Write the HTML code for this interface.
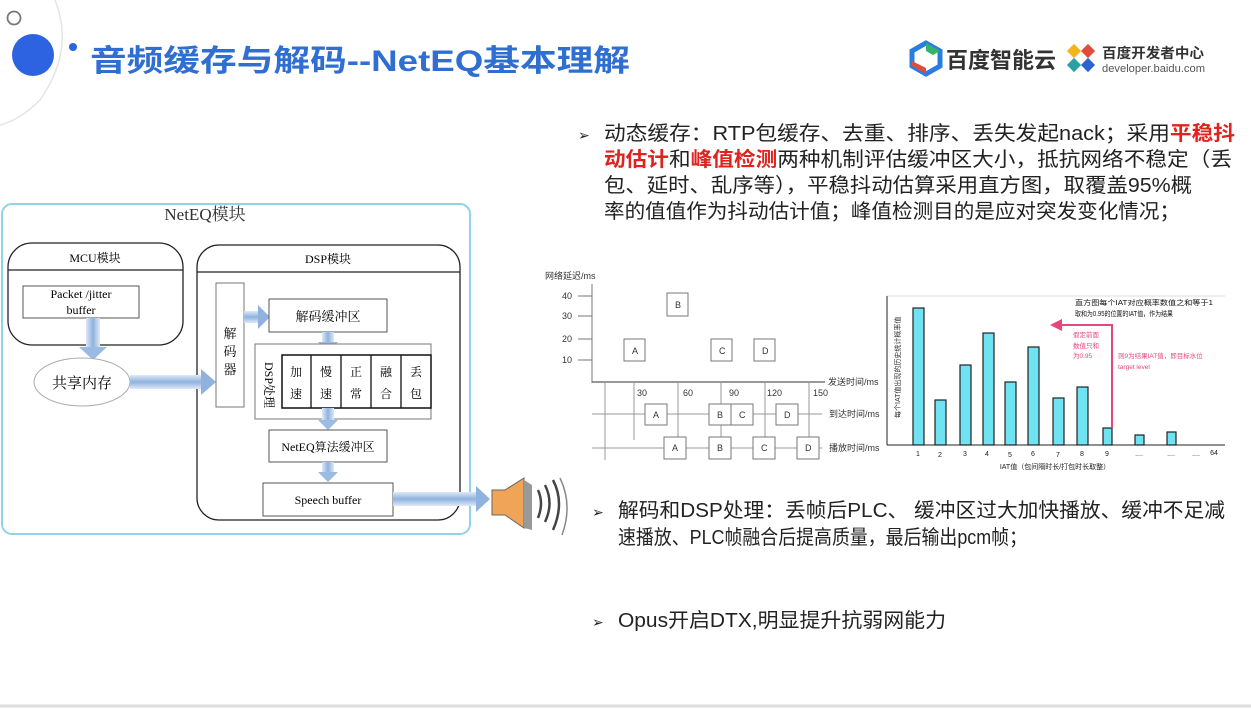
<!DOCTYPE html>
<html><head><meta charset="utf-8"><style>
html,body{margin:0;padding:0;background:#fff;}
svg{display:block;}
text{font-family:"Liberation Sans","Noto Sans CJK SC",sans-serif;}
.s{font-family:"Liberation Serif","Noto Serif CJK SC",serif;}
</style></head><body>
<svg width="1251" height="709" viewBox="0 0 1251 709" xmlns="http://www.w3.org/2000/svg">
<defs>
<linearGradient id="ag" x1="0" y1="0" x2="0" y2="1"><stop offset="0" stop-color="#dfe9f7"/><stop offset="0.5" stop-color="#8fb2df"/><stop offset="1" stop-color="#dfe9f7"/></linearGradient>
<linearGradient id="agv" x1="0" y1="0" x2="1" y2="0"><stop offset="0" stop-color="#dfe9f7"/><stop offset="0.5" stop-color="#8fb2df"/><stop offset="1" stop-color="#dfe9f7"/></linearGradient>
</defs>
<rect width="1251" height="709" fill="#fff"/>
<path d="M55 0 Q75 50 40 100 Q20 120 0 125" fill="none" stroke="#e4e4e4" stroke-width="1.5"/>
<circle cx="14" cy="18" r="6.5" fill="none" stroke="#777" stroke-width="1.8"/>
<circle cx="33" cy="55" r="21" fill="#2d62e0"/>
<circle cx="73" cy="47" r="4" fill="#2d62e0"/>
<text x="90" y="71" font-size="30" font-weight="bold" fill="#2f6fd1" textLength="540" lengthAdjust="spacingAndGlyphs">音频缓存与解码--NetEQ基本理解</text>
<path d="M926 43 L940 51 L940 66 L926 74 L912 66 L912 51 Z" fill="none" stroke="#2a7de0" stroke-width="5"/>
<path d="M926 43 L940 51 L933 55 L926 51 Z" fill="#34b36b"/>
<path d="M912 61 L912 66 L926 74 L926 68 Z" fill="#e04b3a"/>
<text x="946" y="68" font-size="22" font-weight="bold" fill="#333" textLength="110" lengthAdjust="spacingAndGlyphs">百度智能云</text>
<rect x="1069" y="46" width="10" height="10" fill="#f3b51c" transform="rotate(45 1074 51)"/>
<rect x="1083" y="46" width="10" height="10" fill="#e04b3a" transform="rotate(45 1088 51)"/>
<rect x="1069" y="60" width="10" height="10" fill="#29a0a3" transform="rotate(45 1074 65)"/>
<rect x="1083" y="60" width="10" height="10" fill="#2a62d0" transform="rotate(45 1088 65)"/>
<text x="1102" y="58" font-size="14" font-weight="bold" fill="#333" textLength="102" lengthAdjust="spacingAndGlyphs">百度开发者中心</text>
<text x="1102" y="72" font-size="11" fill="#555" textLength="103" lengthAdjust="spacingAndGlyphs">developer.baidu.com</text>

<g font-size="20" fill="#222">
<text x="578" y="140" font-size="14">➢</text>
<text x="604" y="140" textLength="631" lengthAdjust="spacingAndGlyphs">动态缓存：RTP包缓存、去重、排序、丢失发起nack；采用<tspan fill="#e0231f" font-weight="bold">平稳抖</tspan></text>
<text x="604" y="166" textLength="628" lengthAdjust="spacingAndGlyphs"><tspan fill="#e0231f" font-weight="bold">动估计</tspan>和<tspan fill="#e0231f" font-weight="bold">峰值检测</tspan>两种机制评估缓冲区大小，抵抗网络不稳定（丢</text>
<text x="604" y="192" textLength="588" lengthAdjust="spacingAndGlyphs">包、延时、乱序等），平稳抖动估算采用直方图，取覆盖95%概</text>
<text x="604" y="218" textLength="576" lengthAdjust="spacingAndGlyphs">率的值值作为抖动估计值；峰值检测目的是应对突发变化情况；</text>
<text x="592" y="517" font-size="14">➢</text>
<text x="618" y="517" textLength="607" lengthAdjust="spacingAndGlyphs">解码和DSP处理：丢帧后PLC、 缓冲区过大加快播放、缓冲不足减</text>
<text x="618" y="544" textLength="409" lengthAdjust="spacingAndGlyphs">速播放、PLC帧融合后提高质量，最后输出pcm帧；</text>
<text x="592" y="627" font-size="14">➢</text>
<text x="618" y="627" textLength="328" lengthAdjust="spacingAndGlyphs">Opus开启DTX,明显提升抗弱网能力</text>
</g>

<g>
<rect x="2" y="204" width="468" height="330" rx="10" fill="#fff" stroke="#8fd3e4" stroke-width="2"/>
<text x="205" y="220" font-size="17" text-anchor="middle" fill="#333" class="s">NetEQ模块</text>
<rect x="8" y="243" width="175" height="102" rx="24" fill="#fff" stroke="#222" stroke-width="1.3"/>
<line x1="8" y1="270" x2="183" y2="270" stroke="#222" stroke-width="1.3"/>
<text x="95" y="262" font-size="12" text-anchor="middle" class="s">MCU模块</text>
<rect x="23" y="286" width="116" height="32" fill="#fff" stroke="#555"/>
<text x="81" y="298" font-size="12" text-anchor="middle" class="s">Packet /jitter</text>
<text x="81" y="314" font-size="12" text-anchor="middle" class="s">buffer</text>
<rect x="86" y="318" width="14" height="30" fill="url(#agv)"/>
<path d="M79 347 L107 347 L93 360 Z" fill="#9cbbe3"/>
<ellipse cx="82" cy="382" rx="48" ry="24" fill="#fff" stroke="#aaa"/>
<text x="82" y="388" font-size="15" text-anchor="middle" class="s">共享内存</text>

<rect x="197" y="245" width="263" height="275" rx="22" fill="#fff" stroke="#222" stroke-width="1.3"/>
<line x1="197" y1="272" x2="460" y2="272" stroke="#222" stroke-width="1.3"/>
<text x="328" y="263" font-size="12" text-anchor="middle" class="s">DSP模块</text>
<rect x="130" y="375" width="72" height="14" fill="url(#ag)"/>
<path d="M201 369 L216 382 L201 395 Z" fill="#8fb2df"/>
<rect x="216" y="283" width="28" height="124" fill="#fff" stroke="#777"/>
<text x="230" y="338" font-size="13" text-anchor="middle" class="s">解</text>
<text x="230" y="356" font-size="13" text-anchor="middle" class="s">码</text>
<text x="230" y="374" font-size="13" text-anchor="middle" class="s">器</text>
<rect x="244" y="311" width="16" height="12" fill="url(#ag)"/>
<path d="M258 305 L270 317 L258 329 Z" fill="#8fb2df"/>
<rect x="269" y="299" width="118" height="33" fill="#fff" stroke="#555"/>
<text x="328" y="321" font-size="13" text-anchor="middle" class="s">解码缓冲区</text>
<rect x="322" y="332" width="12" height="10" fill="url(#agv)"/>
<path d="M318 342 L338 342 L328 352 Z" fill="#9cbbe3"/>
<rect x="255" y="344" width="176" height="75" fill="#fff" stroke="#777"/>
<text x="265" y="362" font-size="12" class="s" transform="rotate(90 265 362)">DSP处理</text>
<rect x="282" y="355" width="149" height="53" fill="#fff" stroke="#111" stroke-width="1.5"/>
<g stroke="#111" stroke-width="1.3"><line x1="311" y1="355" x2="311" y2="408"/><line x1="341" y1="355" x2="341" y2="408"/><line x1="371" y1="355" x2="371" y2="408"/><line x1="401" y1="355" x2="401" y2="408"/></g>
<g font-size="12" text-anchor="middle" class="s">
<text x="296" y="376" class="s">加</text><text x="296" y="398" class="s">速</text>
<text x="326" y="376" class="s">慢</text><text x="326" y="398" class="s">速</text>
<text x="356" y="376" class="s">正</text><text x="356" y="398" class="s">常</text>
<text x="386" y="376" class="s">融</text><text x="386" y="398" class="s">合</text>
<text x="416" y="376" class="s">丢</text><text x="416" y="398" class="s">包</text>
</g>
<rect x="322" y="408" width="12" height="14" fill="url(#agv)"/>
<path d="M318 420 L338 420 L328 430 Z" fill="#9cbbe3"/>
<rect x="269" y="430" width="118" height="32" fill="#fff" stroke="#555"/>
<text x="328" y="451" font-size="12" text-anchor="middle" class="s">NetEQ算法缓冲区</text>
<rect x="322" y="462" width="12" height="12" fill="url(#agv)"/>
<path d="M318 472 L338 472 L328 482 Z" fill="#9cbbe3"/>
<rect x="263" y="483" width="130" height="33" fill="#fff" stroke="#555"/>
<text x="328" y="504" font-size="12" text-anchor="middle" class="s">Speech buffer</text>
<rect x="393" y="492" width="85" height="14" fill="url(#ag)"/>
<path d="M476 486 L490 499 L476 512 Z" fill="#8fb2df"/>
<path d="M492 490 L505 490 L524 478 L524 528 L505 515 L492 515 Z" fill="#f0a458" stroke="#666"/>
<path d="M524 480 L532 485 L532 530 L524 528 Z" fill="#999"/>
<path d="M538 490 Q544 503 538 518" fill="none" stroke="#444" stroke-width="2.5"/>
<path d="M545 485 Q554 503 545 522" fill="none" stroke="#444" stroke-width="2.5"/>
<path d="M553 480 Q565 503 553 530" fill="none" stroke="#444" stroke-width="2.5"/>
<path d="M560 478 Q573 505 562 535" fill="none" stroke="#888" stroke-width="1.5"/>
</g>

<g font-size="9" fill="#333" stroke-width="1">
<text x="545" y="279" font-size="9">网络延迟/ms</text>
<line x1="592" y1="284" x2="592" y2="383" stroke="#777"/>
<line x1="592" y1="382" x2="825" y2="382" stroke="#777" stroke-width="1.5"/>
<g stroke="#777"><line x1="578" y1="296" x2="592" y2="296"/><line x1="578" y1="316" x2="592" y2="316"/><line x1="578" y1="339" x2="592" y2="339"/><line x1="578" y1="360" x2="592" y2="360"/></g>
<text x="562" y="299">40</text><text x="562" y="319">30</text><text x="562" y="342">20</text><text x="562" y="363">10</text>
<g fill="#fff" stroke="#777">
<rect x="624" y="339" width="21" height="22"/><rect x="667" y="293" width="21" height="23"/>
<rect x="711" y="339" width="21" height="22"/><rect x="754" y="339" width="21" height="22"/>
</g>
<text x="632" y="354">A</text><text x="675" y="308">B</text><text x="719" y="354">C</text><text x="762" y="354">D</text>
<text x="828" y="385">发送时间/ms</text>
<g stroke="#999"><line x1="634" y1="383" x2="634" y2="440"/><line x1="678" y1="383" x2="678" y2="440"/><line x1="721" y1="383" x2="721" y2="440"/><line x1="765" y1="383" x2="765" y2="440"/><line x1="809" y1="383" x2="809" y2="440"/><line x1="605" y1="383" x2="605" y2="460"/></g>
<text x="637" y="396">30</text><text x="683" y="396">60</text><text x="729" y="396">90</text><text x="767" y="396">120</text><text x="813" y="396">150</text>
<line x1="592" y1="414" x2="822" y2="414" stroke="#999"/>
<line x1="592" y1="448" x2="822" y2="448" stroke="#999"/>
<g fill="#fff" stroke="#777">
<rect x="645" y="404" width="22" height="21"/><rect x="709" y="404" width="22" height="21"/><rect x="731" y="404" width="22" height="21"/><rect x="776" y="404" width="22" height="21"/>
<rect x="664" y="437" width="22" height="22"/><rect x="709" y="437" width="22" height="22"/><rect x="753" y="437" width="22" height="22"/><rect x="797" y="437" width="22" height="22"/>
</g>
<text x="653" y="418">A</text><text x="717" y="418">B</text><text x="739" y="418">C</text><text x="784" y="418">D</text>
<text x="672" y="451">A</text><text x="717" y="451">B</text><text x="761" y="451">C</text><text x="805" y="451">D</text>
<text x="829" y="417">到达时间/ms</text>
<text x="829" y="451">播放时间/ms</text>
</g>

<g>
<line x1="887" y1="296" x2="1225" y2="296" stroke="#ddd"/>
<line x1="887" y1="296" x2="887" y2="445" stroke="#222"/>
<line x1="887" y1="445" x2="1225" y2="445" stroke="#222"/>
<text x="900" y="418" font-size="7" fill="#333" transform="rotate(-90 900 418)">每个IAT值出现的历史统计概率值</text>
<g fill="#6fe3f2" stroke="#222" stroke-width="1.2">
<rect x="913" y="308" width="11" height="137"/><rect x="935" y="400" width="11" height="45"/><rect x="960" y="365" width="11" height="80"/><rect x="983" y="333" width="11" height="112"/><rect x="1005" y="382" width="11" height="63"/><rect x="1028" y="347" width="11" height="98"/><rect x="1053" y="398" width="11" height="47"/><rect x="1077" y="387" width="11" height="58"/><rect x="1103" y="428" width="9" height="17"/><rect x="1135" y="435" width="9" height="10"/><rect x="1167" y="432" width="9" height="13"/>
</g>
<g font-size="7" fill="#222" text-anchor="middle">
<text x="918" y="456">1</text><text x="940" y="457">2</text><text x="965" y="456">3</text><text x="987" y="456">4</text><text x="1010" y="457">5</text><text x="1033" y="456">6</text><text x="1058" y="457">7</text><text x="1082" y="456">8</text><text x="1107" y="456">9</text><text x="1139" y="456">....</text><text x="1171" y="456">....</text><text x="1196" y="456">....</text><text x="1214" y="455">64</text>
<text x="1055" y="469">IAT值（包间隔时长/打包时长取整）</text>
</g>
<text x="1075" y="305" font-size="7" fill="#111" textLength="138" lengthAdjust="spacingAndGlyphs">直方图每个IAT对应概率数值之和等于1</text>
<text x="1075" y="316" font-size="7" fill="#111" textLength="98" lengthAdjust="spacingAndGlyphs">取和为0.95的位置的IAT值，作为结果</text>
<path d="M1112 428 L1112 325 L1060 325" fill="none" stroke="#e8457a" stroke-width="2"/>
<path d="M1062 319 L1050 325 L1062 331 Z" fill="#e8457a"/>
<g font-size="6.5" fill="#e8457a">
<text x="1073" y="337">假定前面</text><text x="1073" y="348">数值只和</text><text x="1073" y="358">为0.95</text>
<text x="1118" y="358">则9为结果IAT值，即目标水位</text><text x="1118" y="369">target level</text>
</g>
</g>
<line x1="0" y1="706" x2="1251" y2="706" stroke="#ddd" stroke-width="3"/>
</svg>
</body></html>
